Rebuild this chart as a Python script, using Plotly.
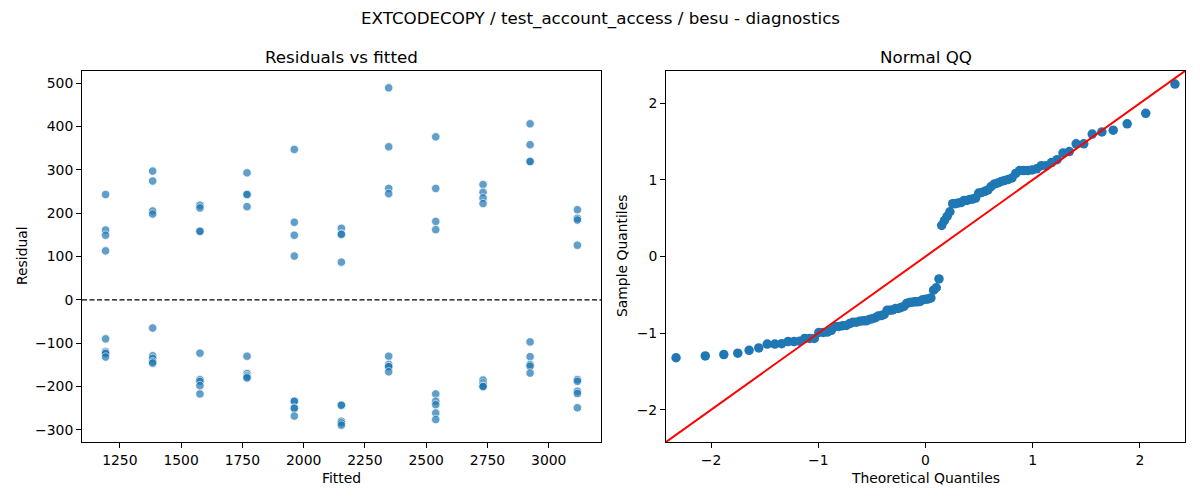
import numpy as np
import plotly.graph_objects as go
from plotly.subplots import make_subplots
from statistics import NormalDist

# fitted value of each group (x positions of the columns on the left panel)
fitted_levels = [1192, 1384, 1577, 1769, 1962, 2154, 2347, 2539, 2732, 2924, 3117]

# residuals per group (4 above zero, 5 below)
res_1192 = [243, 161, 149, 113, -90, -119, -122, -124, -132]
res_1384 = [297, 274, 205, 198, -65, -129, -135, -143, -146]
res_1577 = [218, 212, 158, 158, -123, -184, -188, -198, -217]
res_1769 = [293, 243, 243, 215, -130, -170, -175, -178, -180]
res_1962 = [347, 179, 149, 101, -234, -234, -250, -250, -268]
res_2154 = [165, 152, 151, 87, -243, -243, -280, -284, -289]
res_2347 = [489, 353, 257, 245, -130, -149, -154, -154, -166]
res_2539 = [376, 257, 181, 162, -217, -234, -242, -261, -276]
res_2732 = [266, 248, 235, 222, -185, -192, -197, -200, -200]
res_2924 = [406, 358, 319, 319, -97, -131, -149, -153, -169]
res_3117 = [208, 188, 184, 126, -184, -188, -211, -216, -249]

groups = [res_1192, res_1384, res_1577, res_1769, res_1962, res_2154,
          res_2347, res_2539, res_2732, res_2924, res_3117]

fitted = []
resid = []
for f, g in zip(fitted_levels, groups):
    fitted += [f] * len(g)
    resid += g
fitted = np.array(fitted, dtype=float)
resid = np.array(resid, dtype=float)

# normal QQ: standardised sorted residuals vs normal quantiles
n = len(resid)
sample_q = np.sort((resid - resid.mean()) / resid.std())
nd = NormalDist()
theo_q = np.array([nd.inv_cdf(i / (n + 1)) for i in range(1, n + 1)])

blue = "#1f77b4"
font = "DejaVu Sans"

fig = make_subplots(rows=1, cols=2)

fig.add_trace(go.Scatter(
    x=fitted, y=resid, mode="markers",
    marker=dict(color=blue, size=8.5, opacity=0.7,
                line=dict(color="white", width=0.8)),
    showlegend=False), row=1, col=1)

def pad(lo, hi, frac=0.05):
    d = (hi - lo) * frac
    return [lo - d, hi + d]

xr = pad(fitted.min(), fitted.max())
yr = pad(resid.min(), resid.max())

# zero reference line
fig.add_trace(go.Scatter(
    x=xr, y=[0, 0], mode="lines",
    line=dict(color="black", width=1.2, dash="5px,2.5px"),
    showlegend=False), row=1, col=1)

qlim = 2.42
fig.add_trace(go.Scatter(
    x=theo_q, y=sample_q, mode="markers",
    marker=dict(color=blue, size=9.5),
    showlegend=False), row=1, col=2)
fig.add_trace(go.Scatter(
    x=[-qlim, qlim], y=[-qlim, qlim], mode="lines",
    line=dict(color="red", width=2),
    showlegend=False), row=1, col=2)

axis_style = dict(showline=True, linecolor="black", linewidth=1, mirror=True,
                  ticks="outside", ticklen=5, tickwidth=1, tickcolor="black",
                  showgrid=False, zeroline=False,
                  tickfont=dict(family=font, size=13.9, color="black"))

fig.update_xaxes(axis_style)
fig.update_yaxes(axis_style)

fig.update_xaxes(domain=[82 / 1200, 601 / 1200], range=xr,
                 tickvals=[1250, 1500, 1750, 2000, 2250, 2500, 2750, 3000],
                 row=1, col=1)
fig.update_yaxes(domain=[1 - 442 / 500, 1 - 71 / 500], range=yr,
                 tickvals=[-300, -200, -100, 0, 100, 200, 300, 400, 500],
                 row=1, col=1)
fig.update_xaxes(domain=[666 / 1200, 1185 / 1200], range=[-qlim, qlim],
                 tickvals=[-2, -1, 0, 1, 2], row=1, col=2)
fig.update_yaxes(domain=[1 - 442 / 500, 1 - 71 / 500], range=[-qlim, qlim],
                 tickvals=[-2, -1, 0, 1, 2], row=1, col=2)

def text(x, y, s, size=13.9, angle=0):
    fig.add_annotation(x=x, y=y, xref="paper", yref="paper", text=s,
                       showarrow=False, textangle=angle,
                       xanchor="center", yanchor="middle",
                       font=dict(family=font, size=size, color="black"))

text(0.5, 1 - 18 / 500, "EXTCODECOPY / test_account_access / besu - diagnostics", 16.7)
text(341.5 / 1200, 1 - 57 / 500, "Residuals vs fitted", 16.7)
text(925.5 / 1200, 1 - 57 / 500, "Normal QQ", 16.7)
text(341.5 / 1200, 1 - 478 / 500, "Fitted")
text(925.5 / 1200, 1 - 478 / 500, "Theoretical Quantiles")
text(22 / 1200, 1 - 256 / 500, "Residual", angle=-90)
text(622 / 1200, 1 - 256 / 500, "Sample Quantiles", angle=-90)

fig.update_layout(width=1200, height=500, margin=dict(l=0, r=0, t=0, b=0),
                  paper_bgcolor="white", plot_bgcolor="white",
                  font=dict(family=font, color="black"))

fig.write_html("out.html", config={"displayModeBar": False},
               post_script="document.body.style.margin='0';"
                           "document.body.style.overflow='hidden';")
